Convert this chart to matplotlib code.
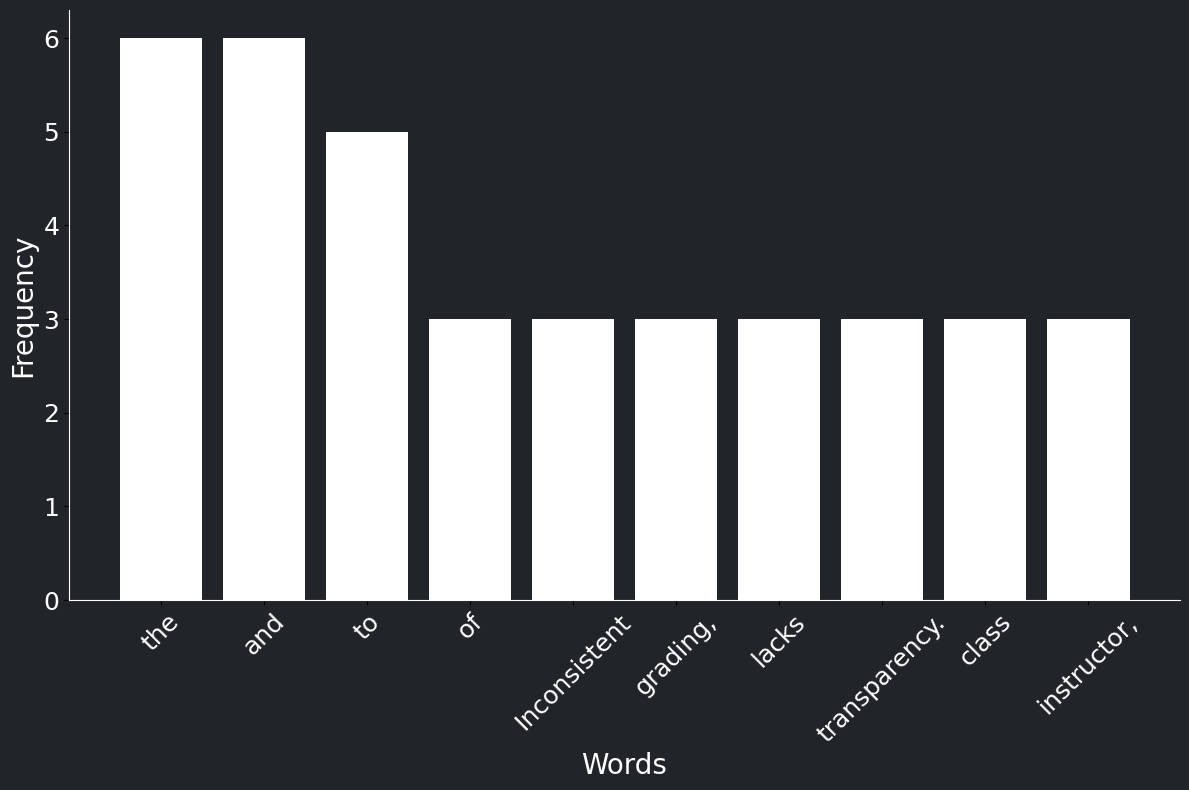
import matplotlib
matplotlib.use("Agg")
import matplotlib.pyplot as plt

words = ["the", "and", "to", "of", "Inconsistent", "grading,", "lacks",
         "transparency.", "class", "instructor,"]
freqs = [6, 6, 5, 3, 3, 3, 3, 3, 3, 3]

bg = "#212529"
fig = plt.figure(figsize=(11.89, 7.9), dpi=100, facecolor=bg)
ax = fig.add_axes([69/1189, 1 - 600/790, (1180-69)/1189, (600-10)/790])
ax.set_facecolor(bg)
ax.bar(words, freqs, color="white", width=0.8)
ax.spines["top"].set_visible(False)
ax.spines["right"].set_visible(False)
ax.spines["left"].set_color("white")
ax.spines["bottom"].set_color("white")
ax.tick_params(axis="both", colors="black", labelcolor="white", labelsize=18)
plt.setp(ax.get_xticklabels(), rotation=45)
ax.set_xlabel("Words", color="white", fontsize=20)
ax.set_ylabel("Frequency", color="white", fontsize=20)
fig.savefig("out.png", facecolor=bg)
